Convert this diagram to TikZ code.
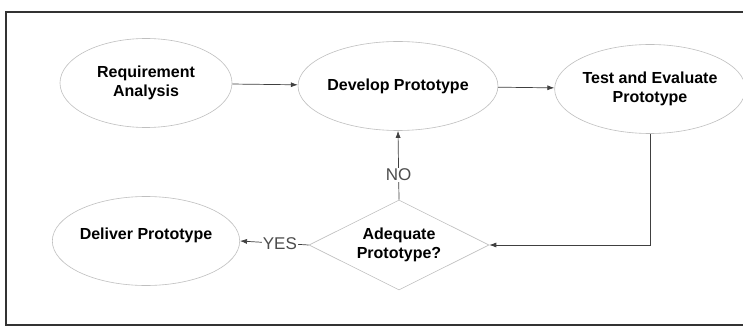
\documentclass[tikz,border=0pt]{standalone}
\usepackage{fontspec}
\setmainfont{Liberation Sans}
\usepackage{tikz}
\usetikzlibrary{arrows.meta,shapes.geometric}

\begin{document}
\begin{tikzpicture}[x=1pt,y=-1pt,
  stage/.style={ellipse,draw=black!25,line width=0.6pt,minimum width=172pt,minimum height=89pt,inner sep=0pt,align=center,font=\bfseries\fontsize{16}{19}\selectfont},
  check/.style={diamond,aspect=2,draw=black!25,line width=0.6pt,minimum width=180pt,minimum height=90pt,inner sep=0pt,align=center,font=\bfseries\fontsize{16}{19}\selectfont},
  flow/.style={draw=black!75,line width=0.7pt,-{Latex[length=7pt,width=5pt]}},
  answer/.style={fill=white,inner sep=1pt,text=black!70,font=\fontsize{17}{20}\selectfont}]
\clip (0,0) rectangle (743,331);
\fill[white] (0,0) rectangle (743,331);
\draw[line width=1.6pt,black!80] (6,12) rectangle (760,325);
\node[stage] (req) at (146,83) {Requirement\\Analysis};
\node[stage] (dev) at (398,86) {Develop Prototype};
\node[stage] (test) at (650,89) {Test and Evaluate\\Prototype};
\node[stage] (deliver) at (146,241) {Deliver Prototype\\[-5pt]\mbox{}};
\node[check] (adequate) at (399,245) {Adequate\\Prototype?};
\draw[flow] (req) -- (dev);
\draw[flow] (dev) -- (test);
\draw[flow] (test.south) |- (adequate.east);
\draw[flow] (adequate.north) -- node[answer,pos=0.36]{NO} (dev.south);
\draw[flow] (adequate.west) -- node[answer,pos=0.42]{YES} (deliver.east);
\end{tikzpicture}
\end{document}
